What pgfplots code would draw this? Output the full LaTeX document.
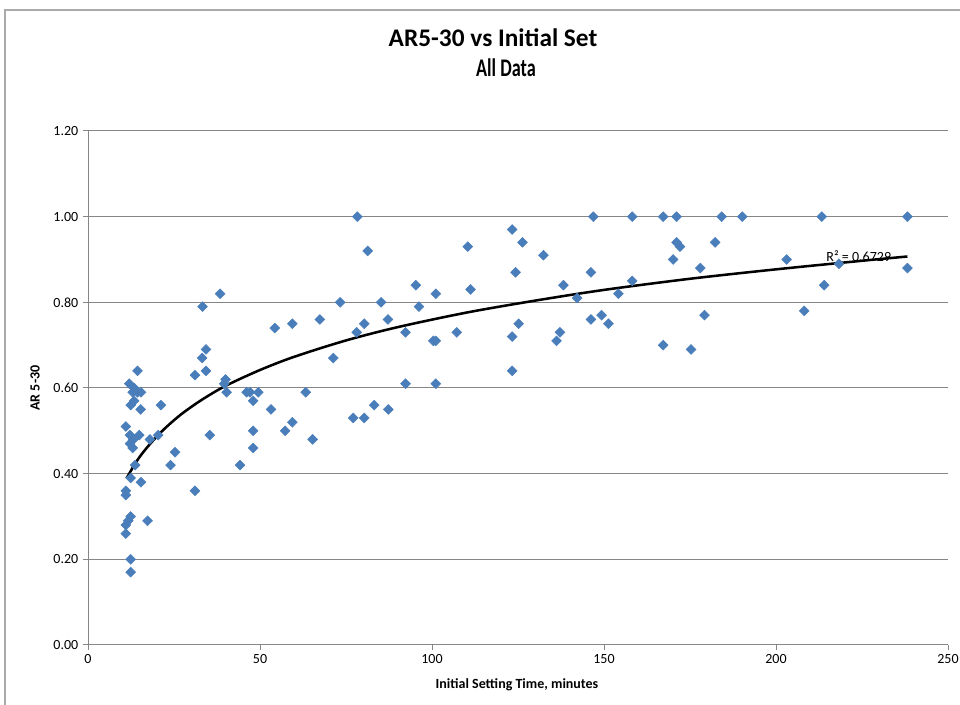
\documentclass[border=0pt]{standalone}
\usepackage{pgfplots}
\pgfplotsset{compat=1.18}
\usepackage{pgfplotstable}
\usepackage{fontspec}
\setmainfont{Carlito}

\definecolor{markblue}{RGB}{74,126,187}
\definecolor{gridgray}{RGB}{134,134,134}
\definecolor{framegray}{RGB}{170,170,170}

% Initial setting time (minutes) and AR 5-30 ratio
\pgfplotstableread{
x y
14.4 0.64
12.0 0.61
13.4 0.60
14.4 0.59
15.4 0.59
13.0 0.59
13.4 0.57
12.4 0.56
15.3 0.55
21.2 0.56
11.0 0.51
12.2 0.49
14.9 0.49
13.2 0.48
12.2 0.47
13.0 0.46
18.0 0.48
20.4 0.49
25.3 0.45
13.7 0.42
24.0 0.42
12.4 0.39
15.4 0.38
11.0 0.36
11.0 0.35
12.4 0.30
11.7 0.29
11.0 0.28
11.0 0.26
17.3 0.29
12.4 0.20
12.4 0.17
38.4 0.82
33.3 0.79
34.3 0.69
33.2 0.67
34.3 0.64
31.1 0.63
40.0 0.62
39.6 0.61
40.3 0.59
35.4 0.49
31.1 0.36
44.2 0.42
46.1 0.59
47.1 0.59
49.5 0.59
48.0 0.57
48.0 0.50
48.0 0.46
53.2 0.55
54.3 0.74
57.3 0.50
59.4 0.52
59.4 0.75
63.3 0.59
65.3 0.48
67.4 0.76
71.3 0.67
73.3 0.80
77.1 0.53
78.1 0.73
78.3 1.00
80.3 0.75
80.3 0.53
81.3 0.92
83.2 0.56
85.2 0.80
87.2 0.76
87.3 0.55
92.3 0.73
92.3 0.61
95.3 0.84
96.2 0.79
100.4 0.71
101.1 0.71
101.1 0.82
101.1 0.61
107.2 0.73
110.4 0.93
111.2 0.83
123.3 0.97
123.3 0.72
123.3 0.64
124.3 0.87
125.2 0.75
126.3 0.94
132.4 0.91
136.2 0.71
137.2 0.73
138.2 0.84
142.2 0.81
146.2 0.87
146.2 0.76
146.9 1.00
149.3 0.77
151.3 0.75
154.2 0.82
158.2 1.00
158.2 0.85
167.2 1.00
167.2 0.70
170.1 0.90
171.1 1.00
171.1 0.94
172.1 0.93
175.3 0.69
178.0 0.88
179.2 0.77
182.3 0.94
184.2 1.00
190.2 1.00
203.1 0.90
208.2 0.78
213.3 1.00
214.0 0.84
218.3 0.89
238.2 1.00
238.2 0.88
}\datatable

% Logarithmic trend line
\pgfplotstableread{
x y
11.2 0.389
13 0.414
15 0.439
18 0.469
22 0.503
27 0.538
33 0.572
40 0.605
50 0.642
60 0.673
75 0.711
90 0.742
110 0.776
130 0.804
150 0.829
175 0.855
200 0.877
225 0.897
238.2 0.907
}\trendtable

\begin{document}
\begin{tikzpicture}
\useasboundingbox (0,0) rectangle (720pt,528.75pt);
\fill[white] (0,0) rectangle (720pt,528.75pt);
% chart frame
\draw[framegray, line width=1.1pt] (3.75pt,0) -- (3.75pt,521.25pt) -- (722pt,521.25pt);

\begin{axis}[
  at={(66pt,45pt)}, anchor=south west,
  scale only axis,
  width=645pt, height=385.5pt,
  xmin=0, xmax=250, ymin=0, ymax=1.2,
  xtick={0,50,...,250},
  ytick={0,0.2,...,1.2},
  axis lines*=left,
  axis line style={-, gridgray, line width=0.75pt},
  ymajorgrids,
  grid style={gridgray, line width=0.75pt},
  tick align=outside,
  major tick length=3.75pt,
  tick style={gridgray, line width=0.75pt},
  /pgf/number format/assume math mode=true,
  yticklabel style={/pgf/number format/.cd, fixed, fixed zerofill, precision=2},
  ticklabel style={font=\fontsize{10.5}{12}\selectfont, black},
  clip=false,
]
\addplot[only marks, mark=square*, mark size=2.6pt,
  mark options={rotate=45, fill=markblue, draw=markblue}]
  table[x=x, y=y] {\datatable};
\addplot[black, line width=1.9pt, smooth, no marks]
  table[x=x, y=y] {\trendtable};
\node[anchor=west, font=\fontsize{10.5}{12}\selectfont, inner sep=0pt]
  at (axis cs:214.6,0.907) {R² = 0.6729};
\end{axis}

% titles
\node[anchor=base, font=\fontsize{19}{22}\selectfont\bfseries, inner sep=0pt]
  at (369.75pt,493.5pt) {AR5-30 vs Initial Set};
\node[anchor=base, font=\fontsize{19}{22}\selectfont\bfseries, inner sep=0pt]
  at (379.5pt,471pt) {\scalebox{0.72}[1]{All Data}};
\node[rotate=90, font=\fontsize{10.5}{12}\selectfont\bfseries, inner sep=0pt]
  at (26.25pt,237.75pt) {AR 5-30};
\node[font=\fontsize{10.5}{12}\selectfont\bfseries, inner sep=0pt]
  at (387.75pt,15pt) {Initial Setting Time, minutes};
\end{tikzpicture}
\end{document}
